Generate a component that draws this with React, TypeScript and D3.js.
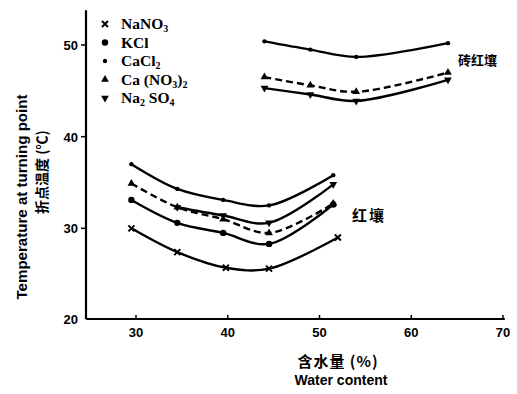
import React from "react";
import * as d3 from "d3";

// water content (%) and turning-point temperature (°C)
const brickX = [44, 49, 54, 64];
const brickCaCl2 = [50.4, 49.5, 48.7, 50.2];
const brickCaNO3 = [46.5, 45.6, 44.9, 47.0];
const brickNa2SO4 = [45.3, 44.6, 43.9, 46.2];

const redX = [29.5, 34.5, 39.5, 44.5, 51.5];
const redCaCl2 = [37.0, 34.3, 33.1, 32.5, 35.8];
const redCaNO3 = [34.9, 32.3, 31.0, 29.5, 32.7];
const redKCl = [33.1, 30.6, 29.5, 28.3, 32.6];
const redNa2SO4X = [34.5, 39.5, 44.5, 51.5];
const redNa2SO4 = [32.3, 31.4, 30.6, 34.8];
const redNaNO3X = [29.5, 34.5, 39.8, 44.5, 52];
const redNaNO3 = [30.0, 27.4, 25.7, 25.6, 29.0];

const xTicks = [30, 40, 50, 60, 70];
const yTicks = [20, 30, 40, 50];

type Marker = "cross" | "bigDot" | "dot" | "up" | "down";

const legendItems: { marker: Marker; parts: [string, boolean][] }[] = [
  { marker: "cross", parts: [["NaNO", false], ["3", true]] },
  { marker: "bigDot", parts: [["KCl", false]] },
  { marker: "dot", parts: [["CaCl", false], ["2", true]] },
  { marker: "up", parts: [["Ca (NO", false], ["3", true], [")", false], ["2", true]] },
  { marker: "down", parts: [["Na", false], ["2", true], [" SO", false], ["4", true]] },
];

const series: { xs: number[]; ys: number[]; marker: Marker; dashed: boolean }[] = [
  { xs: brickX, ys: brickCaCl2, marker: "dot", dashed: false },
  { xs: brickX, ys: brickCaNO3, marker: "up", dashed: true },
  { xs: brickX, ys: brickNa2SO4, marker: "down", dashed: false },
  { xs: redX, ys: redCaCl2, marker: "dot", dashed: false },
  { xs: redX, ys: redCaNO3, marker: "up", dashed: true },
  { xs: redX, ys: redKCl, marker: "bigDot", dashed: false },
  { xs: redNa2SO4X, ys: redNa2SO4, marker: "down", dashed: false },
  { xs: redNaNO3X, ys: redNaNO3, marker: "cross", dashed: false },
];

const sans = "'Liberation Sans', Arial, sans-serif";
const serif = "'Liberation Serif', 'Times New Roman', serif";
const cjk = "'Noto Sans CJK SC', sans-serif";

function MarkerGlyph({ type, x, y }: { type: Marker; x: number; y: number }) {
  if (type === "cross") {
    return (
      <path
        d={`M${x - 3},${y - 3}L${x + 3},${y + 3}M${x + 3},${y - 3}L${x - 3},${y + 3}`}
        stroke="#000"
        strokeWidth={2}
      />
    );
  }
  if (type === "bigDot") return <circle cx={x} cy={y} r={3.2} fill="#000" />;
  if (type === "dot") return <circle cx={x} cy={y} r={2.2} fill="#000" />;
  const tri = d3.symbol(d3.symbolTriangle, 26)()!;
  return (
    <path
      d={tri}
      fill="#000"
      transform={`translate(${x},${y})${type === "down" ? " rotate(180)" : ""}`}
    />
  );
}

export default function App() {
  const width = 517;
  const height = 394;

  const x = d3.scaleLinear().domain([30, 70]).range([136, 503]);
  const y = d3.scaleLinear().domain([20, 50]).range([320, 45]);

  const axisX0 = 86;
  const axisY0 = 319;

  const line = d3
    .line<[number, number]>()
    .x((d) => x(d[0]))
    .y((d) => y(d[1]))
    .curve(d3.curveCatmullRom.alpha(0.5));

  return (
    <svg
      width={width}
      height={height}
      style={{ position: "absolute", left: 0, top: 0, background: "#fff" }}
    >
      {/* axes */}
      <line x1={axisX0} y1={y(53.8)} x2={axisX0} y2={axisY0} stroke="#000" strokeWidth={2.2} />
      <line x1={axisX0} y1={axisY0} x2={x(70.2)} y2={axisY0} stroke="#000" strokeWidth={2.2} />
      {yTicks.map((t) => (
        <g key={"y" + t}>
          {t > 20 && <line x1={axisX0 - 5} x2={axisX0} y1={y(t)} y2={y(t)} stroke="#000" strokeWidth={1.5} />}
          <text
            x={axisX0 - 8}
            y={t === 20 ? axisY0 + 5 : y(t) + 5}
            textAnchor="end"
            fontFamily={sans}
            fontWeight="bold"
            fontSize={13}
          >
            {t}
          </text>
        </g>
      ))}
      {xTicks.map((t) => (
        <g key={"x" + t}>
          <line x1={x(t)} x2={x(t)} y1={axisY0 - 4} y2={axisY0} stroke="#000" strokeWidth={1.5} />
          <text x={x(t)} y={axisY0 + 18} textAnchor="middle" fontFamily={sans} fontWeight="bold" fontSize={13}>
            {t}
          </text>
        </g>
      ))}

      {/* axis titles */}
      <text
        transform="translate(27,197) rotate(-90)"
        textAnchor="middle"
        fontFamily={sans}
        fontWeight="bold"
        fontSize={14}
        textLength={205}
        lengthAdjust="spacingAndGlyphs"
      >
        Temperature at turning point
      </text>
      <text
        transform="translate(47,172) rotate(-90)"
        textAnchor="middle"
        fontFamily={cjk}
        fontWeight="bold"
        fontSize={14}
      >
        折点温度 (℃)
      </text>
      <text x={338} y={367} textAnchor="middle" fontFamily={cjk} fontWeight="bold" fontSize={15} letterSpacing={1}>
        含水量 (%)
      </text>
      <text x={341} y={385} textAnchor="middle" fontFamily={sans} fontWeight="bold" fontSize={14}>
        Water content
      </text>

      {/* curves */}
      {series.map((s, i) => {
        const pts = s.xs.map((v, j) => [v, s.ys[j]] as [number, number]);
        return (
          <g key={"s" + i}>
            <path
              d={line(pts)!}
              fill="none"
              stroke="#000"
              strokeWidth={2.4}
              strokeDasharray={s.dashed ? "7,4" : undefined}
            />
            {pts.map((p, j) => (
              <MarkerGlyph key={j} type={s.marker} x={x(p[0])} y={y(p[1])} />
            ))}
          </g>
        );
      })}

      {/* soil labels */}
      <text x={458} y={65} fontFamily={cjk} fontWeight="bold" fontSize={13}>
        砖红壤
      </text>
      <text x={352} y={221} fontFamily={cjk} fontWeight="bold" fontSize={15} letterSpacing={2}>
        红壤
      </text>

      {/* legend */}
      {legendItems.map((item, i) => {
        const cy = 24 + i * 18.5;
        return (
          <g key={"l" + i}>
            <MarkerGlyph type={item.marker} x={105} y={cy} />
            <text x={121} y={cy + 5} fontFamily={serif} fontWeight="bold" fontSize={15.5}>
              {item.parts.map(([txt, sub], k) => (
                <tspan key={k} fontSize={sub ? 10 : 15.5} dy={sub ? 3 : k > 0 && item.parts[k - 1][1] ? -3 : 0}>
                  {txt}
                </tspan>
              ))}
            </text>
          </g>
        );
      })}
    </svg>
  );
}
